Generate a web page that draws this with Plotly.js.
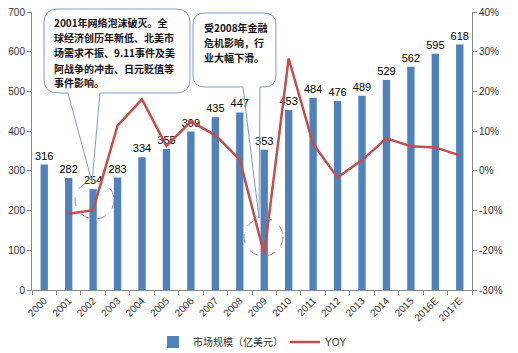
<!DOCTYPE html>
<html><head><meta charset="utf-8">
<script src="https://cdn.plot.ly/plotly-3.0.1.min.js"></script>
<style>body{margin:0;background:#fff}#c{width:518px;height:353px}</style>
</head><body><div id="c"></div>
<script>
const years = ['2000','2001','2002','2003','2004','2005','2006','2007','2008','2009','2010','2011','2012','2013','2014','2015','2016E','2017E'];
const market = [316,282,254,283,334,355,399,435,447,353,453,484,476,489,529,562,595,618];
const yoy = [null,-10.8,-9.9,11.4,18.0,6.3,12.4,9.0,2.8,-21.0,28.3,6.8,-1.7,2.7,8.2,6.2,5.9,3.9];
const yTicks = [0,100,200,300,400,500,600,700];
const y2Ticks = [-30,-20,-10,0,10,20,30,40];
const note1 = ['2001年网络泡沫破灭。全','球经济创历年新低、北美市','场需求不振、9.11事件及美','阿战争的冲击、日元贬值等','事件影响。'];
const note2 = ['受2008年金融','危机影响，行','业大幅下滑。'];

const W=518,H=353,L=32,R=46,T=12,B=63;
const px = x => (x-L)/(W-L-R);
const py = y => 1-(y-T)/(H-T-B);
function pt(x,y){return px(x).toFixed(4)+','+py(y).toFixed(4);}
function rrect(x0,y0,x1,y1,r){
  return 'M'+pt(x0+r,y0)+' L'+pt(x1-r,y0)+' Q'+pt(x1,y0)+' '+pt(x1,y0+r)+
    ' L'+pt(x1,y1-r)+' Q'+pt(x1,y1)+' '+pt(x1-r,y1)+
    ' L'+pt(x0+r,y1)+' Q'+pt(x0,y1)+' '+pt(x0,y1-r)+
    ' L'+pt(x0,y0+r)+' Q'+pt(x0,y0)+' '+pt(x0+r,y0)+' Z';
}
function callout(x0,y0,x1,y1,r,t0,tip,t1){
  return 'M'+pt(x0+r,y0)+' L'+pt(x1-r,y0)+' Q'+pt(x1,y0)+' '+pt(x1,y0+r)+
    ' L'+pt(x1,y1-r)+' Q'+pt(x1,y1)+' '+pt(x1-r,y1)+
    ' L'+pt(t1,y1)+' L'+pt(tip[0],tip[1])+' L'+pt(t0,y1)+
    ' L'+pt(x0+r,y1)+' Q'+pt(x0,y1)+' '+pt(x0,y1-r)+
    ' L'+pt(x0,y0+r)+' Q'+pt(x0,y0)+' '+pt(x0+r,y0)+' Z';
}
const font = '"Liberation Sans", Arial, "Noto Sans CJK SC", sans-serif';
const cjk = '"Noto Sans CJK SC", sans-serif';
const traces = [
  {type:'bar', x:years, y:market, name:'市场规模（亿美元）', marker:{color:'#4F81BD'},
   width:0.3, text:market.map(String), textposition:'outside', cliponaxis:false, constraintext:'none',
   textfont:{size:11,color:'#000'}, legend:'legend'},
  {type:'scatter', mode:'lines', x:years, y:yoy, yaxis:'y2', name:'YOY',
   line:{color:'#C0504D', width:2.5}, connectgaps:false, legend:'legend2'}
];
const anns = [];
note1.forEach((s,i)=>anns.push({xref:'paper', yref:'paper', x:px(52), y:py(23+i*15), xanchor:'left', yanchor:'middle', showarrow:false, text:'<b>'+s+'</b>', font:{size:10,color:'#111',family:cjk}}));
note2.forEach((s,i)=>anns.push({xref:'paper', yref:'paper', x:px(202), y:py(28+i*15), xanchor:'left', yanchor:'middle', showarrow:false, text:'<b>'+s+'</b>', font:{size:10,color:'#111',family:cjk}}));
const ax = {showline:true, linecolor:'#888', ticks:'outside', ticklen:4, tickcolor:'#888', showgrid:false, zeroline:false, automargin:false, tickfont:{size:10,color:'#333'}};
const lg = {orientation:'h', xref:'container', yref:'container', xanchor:'left', y:(H-342)/H, yanchor:'middle', font:{size:10,color:'#333'}, itemwidth:30, bgcolor:'rgba(0,0,0,0)'};
const boxLine = {color:'#7F9CC0',width:1};
const layout = {
  width:W, height:H, margin:{l:L,r:R,t:T,b:B},
  paper_bgcolor:'#fff', plot_bgcolor:'rgba(0,0,0,0)',
  font:{family:font, size:10, color:'#333'},
  bargap:0.7, showlegend:true,
  legend:Object.assign({}, lg, {x:153/W}),
  legend2:Object.assign({}, lg, {x:285/W}),
  xaxis:Object.assign({}, ax, {type:'category', tickangle:-45, tickson:'boundaries'}),
  yaxis:Object.assign({}, ax, {range:[0,700], tickvals:yTicks}),
  yaxis2:Object.assign({}, ax, {range:[-30,40], overlaying:'y', side:'right', tickvals:y2Ticks, ticktext:y2Ticks.map(v=>v+'%')}),
  shapes:[
    {type:'path', xref:'paper', yref:'paper', path:rrect(44,9,190,93,14), line:{width:0}, fillcolor:'#fff'},
    {type:'path', xref:'paper', yref:'paper', path:callout(44,9,190,93,14,68,[92,182],100), line:boxLine, fillcolor:'rgba(0,0,0,0)'},
    {type:'path', xref:'paper', yref:'paper', path:rrect(193,13,276,87,12), line:{width:0}, fillcolor:'#fff'},
    {type:'path', xref:'paper', yref:'paper', path:callout(193,13,276,87,12,243,[259,218],260), line:boxLine, fillcolor:'rgba(0,0,0,0)'},
    {type:'circle', xref:'paper', yref:'paper', x0:px(75), x1:px(114), y0:py(181), y1:py(219), line:{color:'#B08080',width:1,dash:'dash'}},
    {type:'circle', xref:'paper', yref:'paper', x0:px(244), x1:px(283), y0:py(218), y1:py(256), line:{color:'#B08080',width:1,dash:'dash'}}
  ],
  annotations:anns
};
Plotly.newPlot('c', traces, layout, {displayModeBar:false, staticPlot:true});
</script></body></html>
